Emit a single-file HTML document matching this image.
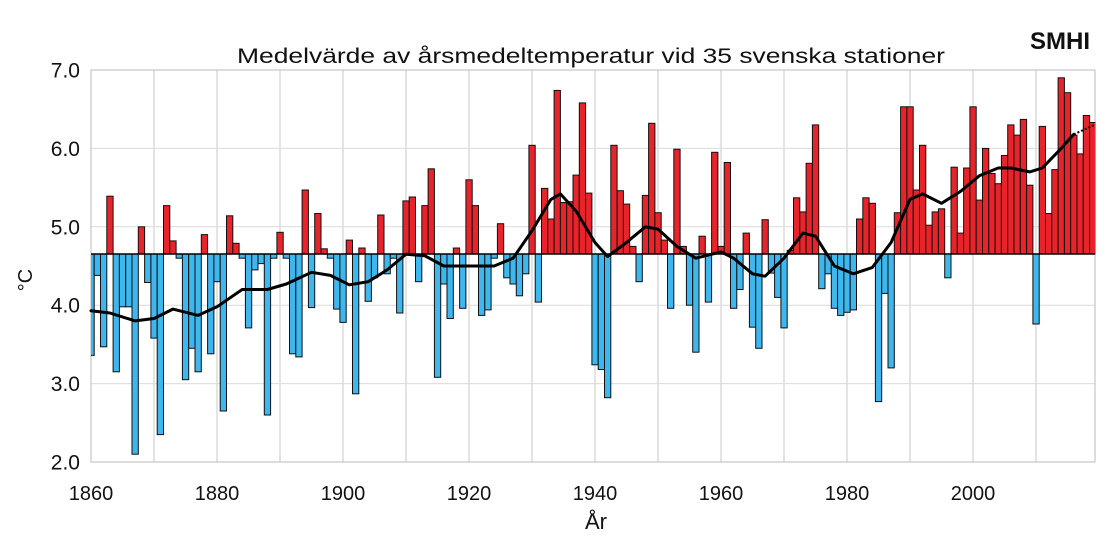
<!DOCTYPE html>
<html><head><meta charset="utf-8"><style>
body{margin:0;background:#fff;width:1115px;height:543px;overflow:hidden}
svg{display:block}
text{font-family:"Liberation Sans",sans-serif;fill:#111}
rect.r,rect.b{stroke:#111;stroke-width:1}
.r{fill:#e8242a}.b{fill:#3eb6ee}
</style></head><body>
<svg width="1115" height="543" xmlns="http://www.w3.org/2000/svg">
<g stroke="#c8c8c8" stroke-width="1">
<line x1="91" y1="70" x2="91" y2="462"/><line x1="154" y1="70" x2="154" y2="462"/><line x1="217" y1="70" x2="217" y2="462"/><line x1="280" y1="70" x2="280" y2="462"/><line x1="343" y1="70" x2="343" y2="462"/><line x1="406" y1="70" x2="406" y2="462"/><line x1="469" y1="70" x2="469" y2="462"/><line x1="532" y1="70" x2="532" y2="462"/><line x1="595" y1="70" x2="595" y2="462"/><line x1="658" y1="70" x2="658" y2="462"/><line x1="721" y1="70" x2="721" y2="462"/><line x1="784" y1="70" x2="784" y2="462"/><line x1="847" y1="70" x2="847" y2="462"/><line x1="910" y1="70" x2="910" y2="462"/><line x1="973" y1="70" x2="973" y2="462"/><line x1="1036" y1="70" x2="1036" y2="462"/>
</g>
<g stroke="#dcdcdc" stroke-width="1">
<line x1="91" y1="148.4" x2="1095" y2="148.4"/><line x1="91" y1="226.8" x2="1095" y2="226.8"/><line x1="91" y1="305.2" x2="1095" y2="305.2"/><line x1="91" y1="383.6" x2="1095" y2="383.6"/>
</g>
<rect x="91" y="70" width="1004" height="392" fill="none" stroke="#bbb" stroke-width="1"/>
<clipPath id="c"><rect x="91" y="60" width="1004.5" height="403"/></clipPath>
<g clip-path="url(#c)">
<g transform="translate(87.9,0)">
<rect class="b" x="0" y="254" width="6.3" height="101.4"/>
<rect class="b" x="6.3" y="254" width="6.3" height="21.4"/>
<rect class="b" x="12.6" y="254" width="6.3" height="92.8"/>
<rect class="r" x="18.9" y="196.2" width="6.3" height="57.8"/>
<rect class="b" x="25.2" y="254" width="6.3" height="117.8"/>
<rect class="b" x="31.5" y="254" width="6.3" height="52.8"/>
<rect class="b" x="37.8" y="254" width="6.3" height="52.8"/>
<rect class="b" x="44.1" y="254" width="6.3" height="200.2"/>
<rect class="r" x="50.4" y="226.8" width="6.3" height="27.2"/>
<rect class="b" x="56.7" y="254" width="6.3" height="28.5"/>
</g>
<g transform="translate(150.9,0)">
<rect class="b" x="0" y="254" width="6.3" height="84.1"/>
<rect class="b" x="6.3" y="254" width="6.3" height="180.6"/>
<rect class="r" x="12.6" y="205.6" width="6.3" height="48.4"/>
<rect class="r" x="18.9" y="240.9" width="6.3" height="13.1"/>
<rect class="b" x="25.2" y="254" width="6.3" height="4.2"/>
<rect class="b" x="31.5" y="254" width="6.3" height="125.7"/>
<rect class="b" x="37.8" y="254" width="6.3" height="94.3"/>
<rect class="b" x="44.1" y="254" width="6.3" height="117.8"/>
<rect class="r" x="50.4" y="234.6" width="6.3" height="19.4"/>
<rect class="b" x="56.7" y="254" width="6.3" height="99.8"/>
</g>
<g transform="translate(213.9,0)">
<rect class="b" x="0" y="254" width="6.3" height="27.7"/>
<rect class="b" x="6.3" y="254" width="6.3" height="157"/>
<rect class="r" x="12.6" y="215.8" width="6.3" height="38.2"/>
<rect class="r" x="18.9" y="243.3" width="6.3" height="10.7"/>
<rect class="b" x="25.2" y="254" width="6.3" height="4.2"/>
<rect class="b" x="31.5" y="254" width="6.3" height="73.9"/>
<rect class="b" x="37.8" y="254" width="6.3" height="15.9"/>
<rect class="b" x="44.1" y="254" width="6.3" height="9.6"/>
<rect class="b" x="50.4" y="254" width="6.3" height="161"/>
<rect class="b" x="56.7" y="254" width="6.3" height="4.2"/>
</g>
<g transform="translate(276.9,0)">
<rect class="r" x="0" y="232.3" width="6.3" height="21.7"/>
<rect class="b" x="6.3" y="254" width="6.3" height="4.2"/>
<rect class="b" x="12.6" y="254" width="6.3" height="99.8"/>
<rect class="b" x="18.9" y="254" width="6.3" height="102.9"/>
<rect class="r" x="25.2" y="190" width="6.3" height="64"/>
<rect class="b" x="31.5" y="254" width="6.3" height="53.6"/>
<rect class="r" x="37.8" y="213.5" width="6.3" height="40.5"/>
<rect class="r" x="44.1" y="248.8" width="6.3" height="5.2"/>
<rect class="b" x="50.4" y="254" width="6.3" height="4.2"/>
<rect class="b" x="56.7" y="254" width="6.3" height="55.1"/>
</g>
<g transform="translate(339.9,0)">
<rect class="b" x="0" y="254" width="6.3" height="68.4"/>
<rect class="r" x="6.3" y="240.1" width="6.3" height="13.9"/>
<rect class="b" x="12.6" y="254" width="6.3" height="139.8"/>
<rect class="r" x="18.9" y="248" width="6.3" height="6"/>
<rect class="b" x="25.2" y="254" width="6.3" height="47.3"/>
<rect class="b" x="31.5" y="254" width="6.3" height="23.8"/>
<rect class="r" x="37.8" y="215" width="6.3" height="39"/>
<rect class="b" x="44.1" y="254" width="6.3" height="19.8"/>
<rect class="b" x="50.4" y="254" width="6.3" height="4.2"/>
<rect class="b" x="56.7" y="254" width="6.3" height="59"/>
</g>
<g transform="translate(402.9,0)">
<rect class="r" x="0" y="200.9" width="6.3" height="53.1"/>
<rect class="r" x="6.3" y="197" width="6.3" height="57"/>
<rect class="b" x="12.6" y="254" width="6.3" height="27.7"/>
<rect class="r" x="18.9" y="205.6" width="6.3" height="48.4"/>
<rect class="r" x="25.2" y="168.8" width="6.3" height="85.2"/>
<rect class="b" x="31.5" y="254" width="6.3" height="123.3"/>
<rect class="b" x="37.8" y="254" width="6.3" height="30"/>
<rect class="b" x="44.1" y="254" width="6.3" height="64.5"/>
<rect class="r" x="50.4" y="248" width="6.3" height="6"/>
<rect class="b" x="56.7" y="254" width="6.3" height="54.3"/>
</g>
<g transform="translate(465.9,0)">
<rect class="r" x="0" y="179.8" width="6.3" height="74.2"/>
<rect class="r" x="6.3" y="205.6" width="6.3" height="48.4"/>
<rect class="b" x="12.6" y="254" width="6.3" height="61.4"/>
<rect class="b" x="18.9" y="254" width="6.3" height="55.9"/>
<rect class="b" x="25.2" y="254" width="6.3" height="4.2"/>
<rect class="r" x="31.5" y="223.7" width="6.3" height="30.3"/>
<rect class="b" x="37.8" y="254" width="6.3" height="23.8"/>
<rect class="b" x="44.1" y="254" width="6.3" height="30"/>
<rect class="b" x="50.4" y="254" width="6.3" height="41.8"/>
<rect class="b" x="56.7" y="254" width="6.3" height="19.8"/>
</g>
<g transform="translate(528.9,0)">
<rect class="r" x="0" y="145.3" width="6.3" height="108.7"/>
<rect class="b" x="6.3" y="254" width="6.3" height="48.1"/>
<rect class="r" x="12.6" y="188.4" width="6.3" height="65.6"/>
<rect class="r" x="18.9" y="219" width="6.3" height="35"/>
<rect class="r" x="25.2" y="90.4" width="6.3" height="163.6"/>
<rect class="r" x="31.5" y="202.5" width="6.3" height="51.5"/>
<rect class="r" x="37.8" y="201.7" width="6.3" height="52.3"/>
<rect class="r" x="44.1" y="175.1" width="6.3" height="78.9"/>
<rect class="r" x="50.4" y="102.9" width="6.3" height="151.1"/>
<rect class="r" x="56.7" y="193.1" width="6.3" height="60.9"/>
</g>
<g transform="translate(591.9,0)">
<rect class="b" x="0" y="254" width="6.3" height="110.8"/>
<rect class="b" x="6.3" y="254" width="6.3" height="115.5"/>
<rect class="b" x="12.6" y="254" width="6.3" height="143.7"/>
<rect class="r" x="18.9" y="145.3" width="6.3" height="108.7"/>
<rect class="r" x="25.2" y="190.7" width="6.3" height="63.3"/>
<rect class="r" x="31.5" y="204.1" width="6.3" height="49.9"/>
<rect class="r" x="37.8" y="246.4" width="6.3" height="7.6"/>
<rect class="b" x="44.1" y="254" width="6.3" height="27.7"/>
<rect class="r" x="50.4" y="195.4" width="6.3" height="58.6"/>
<rect class="r" x="56.7" y="123.3" width="6.3" height="130.7"/>
</g>
<g transform="translate(654.9,0)">
<rect class="r" x="0" y="212.7" width="6.3" height="41.3"/>
<rect class="r" x="6.3" y="240.1" width="6.3" height="13.9"/>
<rect class="b" x="12.6" y="254" width="6.3" height="54.3"/>
<rect class="r" x="18.9" y="149.2" width="6.3" height="104.8"/>
<rect class="r" x="25.2" y="246.4" width="6.3" height="7.6"/>
<rect class="b" x="31.5" y="254" width="6.3" height="51.2"/>
<rect class="b" x="37.8" y="254" width="6.3" height="98.2"/>
<rect class="r" x="44.1" y="236.2" width="6.3" height="17.8"/>
<rect class="b" x="50.4" y="254" width="6.3" height="48.1"/>
<rect class="r" x="56.7" y="152.3" width="6.3" height="101.7"/>
</g>
<g transform="translate(717.9,0)">
<rect class="r" x="0" y="246.4" width="6.3" height="7.6"/>
<rect class="r" x="6.3" y="162.5" width="6.3" height="91.5"/>
<rect class="b" x="12.6" y="254" width="6.3" height="54.3"/>
<rect class="b" x="18.9" y="254" width="6.3" height="35.5"/>
<rect class="r" x="25.2" y="233.1" width="6.3" height="20.9"/>
<rect class="b" x="31.5" y="254" width="6.3" height="73.2"/>
<rect class="b" x="37.8" y="254" width="6.3" height="94.3"/>
<rect class="r" x="44.1" y="219.7" width="6.3" height="34.3"/>
<rect class="b" x="50.4" y="254" width="6.3" height="19.1"/>
<rect class="b" x="56.7" y="254" width="6.3" height="43.4"/>
</g>
<g transform="translate(780.9,0)">
<rect class="b" x="0" y="254" width="6.3" height="73.9"/>
<rect class="r" x="6.3" y="250.3" width="6.3" height="3.7"/>
<rect class="r" x="12.6" y="197.8" width="6.3" height="56.2"/>
<rect class="r" x="18.9" y="211.9" width="6.3" height="42.1"/>
<rect class="r" x="25.2" y="163.3" width="6.3" height="90.7"/>
<rect class="r" x="31.5" y="124.9" width="6.3" height="129.1"/>
<rect class="b" x="37.8" y="254" width="6.3" height="34.7"/>
<rect class="b" x="44.1" y="254" width="6.3" height="19.8"/>
<rect class="b" x="50.4" y="254" width="6.3" height="54.3"/>
<rect class="b" x="56.7" y="254" width="6.3" height="61.4"/>
</g>
<g transform="translate(843.9,0)">
<rect class="b" x="0" y="254" width="6.3" height="58.3"/>
<rect class="b" x="6.3" y="254" width="6.3" height="55.9"/>
<rect class="r" x="12.6" y="219" width="6.3" height="35"/>
<rect class="r" x="18.9" y="197.8" width="6.3" height="56.2"/>
<rect class="r" x="25.2" y="203.3" width="6.3" height="50.7"/>
<rect class="b" x="31.5" y="254" width="6.3" height="147.6"/>
<rect class="b" x="37.8" y="254" width="6.3" height="39.4"/>
<rect class="b" x="44.1" y="254" width="6.3" height="113.9"/>
<rect class="r" x="50.4" y="212.7" width="6.3" height="41.3"/>
<rect class="r" x="56.7" y="106.8" width="6.3" height="147.2"/>
</g>
<g transform="translate(906.9,0)">
<rect class="r" x="0" y="106.8" width="6.3" height="147.2"/>
<rect class="r" x="6.3" y="190" width="6.3" height="64"/>
<rect class="r" x="12.6" y="145.3" width="6.3" height="108.7"/>
<rect class="r" x="18.9" y="225.2" width="6.3" height="28.8"/>
<rect class="r" x="25.2" y="211.9" width="6.3" height="42.1"/>
<rect class="r" x="31.5" y="208.8" width="6.3" height="45.2"/>
<rect class="b" x="37.8" y="254" width="6.3" height="23.8"/>
<rect class="r" x="44.1" y="167.2" width="6.3" height="86.8"/>
<rect class="r" x="50.4" y="233.1" width="6.3" height="20.9"/>
<rect class="r" x="56.7" y="168" width="6.3" height="86"/>
</g>
<g transform="translate(969.9,0)">
<rect class="r" x="0" y="106.8" width="6.3" height="147.2"/>
<rect class="r" x="6.3" y="200.1" width="6.3" height="53.9"/>
<rect class="r" x="12.6" y="148.4" width="6.3" height="105.6"/>
<rect class="r" x="18.9" y="173.5" width="6.3" height="80.5"/>
<rect class="r" x="25.2" y="183.7" width="6.3" height="70.3"/>
<rect class="r" x="31.5" y="155.5" width="6.3" height="98.5"/>
<rect class="r" x="37.8" y="124.9" width="6.3" height="129.1"/>
<rect class="r" x="44.1" y="135.1" width="6.3" height="118.9"/>
<rect class="r" x="50.4" y="119.4" width="6.3" height="134.6"/>
<rect class="r" x="56.7" y="185.2" width="6.3" height="68.8"/>
</g>
<g transform="translate(1032.9,0)">
<rect class="b" x="0" y="254" width="6.3" height="70"/>
<rect class="r" x="6.3" y="126.4" width="6.3" height="127.6"/>
<rect class="r" x="12.6" y="213.5" width="6.3" height="40.5"/>
<rect class="r" x="18.9" y="169.6" width="6.3" height="84.4"/>
<rect class="r" x="25.2" y="77.8" width="6.3" height="176.2"/>
<rect class="r" x="31.5" y="92.7" width="6.3" height="161.3"/>
<rect class="r" x="37.8" y="135.1" width="6.3" height="118.9"/>
<rect class="r" x="44.1" y="153.9" width="6.3" height="100.1"/>
<rect class="r" x="50.4" y="115.5" width="6.3" height="138.5"/>
<rect class="r" x="56.7" y="122.5" width="6.3" height="131.5"/>
</g>
</g>
<line x1="91" y1="254" x2="1095" y2="254" stroke="#000" stroke-width="1.5"/>
<polyline fill="none" stroke="#000" stroke-width="3" stroke-linejoin="round" stroke-linecap="round" points="91,310.7 109.9,313 135.1,320.9 154,318.5 172.9,309.1 198.1,315.4 217,306.8 242.2,289.5 267.4,289.5 286.3,284 311.5,272.3 330.4,275.4 349.3,284.8 368.2,281.7 387.1,269.9 406,254.2 424.9,255.8 443.8,266 462.7,266 494.2,266 513.1,258.2 532,230.7 550.9,199.4 560.4,193.9 576.1,211.1 595,242.5 607.6,256.6 626.5,242.5 645.4,226.8 658,229.1 676.9,246.4 695.8,258.2 721,251.9 733.6,258.2 752.5,273.8 765.1,276.2 784,258.2 802.9,233.1 815.5,236.2 834.4,266 853.3,273.8 872.2,267.6 891.1,242.5 910,199.4 922.6,193.9 941.5,203.3 960.4,191.5 979.3,175.8 998.2,168 1010.8,168 1029.7,171.9 1042.3,168 1061.2,148.4 1073.8,134.3"/>
<line x1="1073.8" y1="134.3" x2="1094.6" y2="124.9" stroke="#000" stroke-width="2" stroke-dasharray="2,2"/>
<g font-size="21" text-anchor="end">
<text x="80" y="77.5">7.0</text><text x="80" y="155.9">6.0</text><text x="80" y="234.3">5.0</text><text x="80" y="312.7">4.0</text><text x="80" y="391.1">3.0</text><text x="80" y="469.5">2.0</text>
</g>
<g font-size="20" text-anchor="middle">
<text x="91" y="500">1860</text><text x="217" y="500">1880</text><text x="343" y="500">1900</text><text x="469" y="500">1920</text><text x="595" y="500">1940</text><text x="721" y="500">1960</text><text x="847" y="500">1980</text><text x="973" y="500">2000</text>
</g>
<text x="596" y="529" font-size="22" text-anchor="middle">År</text>
<text x="32" y="280" font-size="20" text-anchor="middle" transform="rotate(-90 32 280)">°C</text>
<text x="237" y="63" font-size="21" textLength="708" lengthAdjust="spacingAndGlyphs">Medelvärde av årsmedeltemperatur vid 35 svenska stationer</text>
<text x="1030" y="49" font-size="24" font-weight="bold" textLength="60" lengthAdjust="spacingAndGlyphs">SMHI</text>
</svg>
</body></html>
